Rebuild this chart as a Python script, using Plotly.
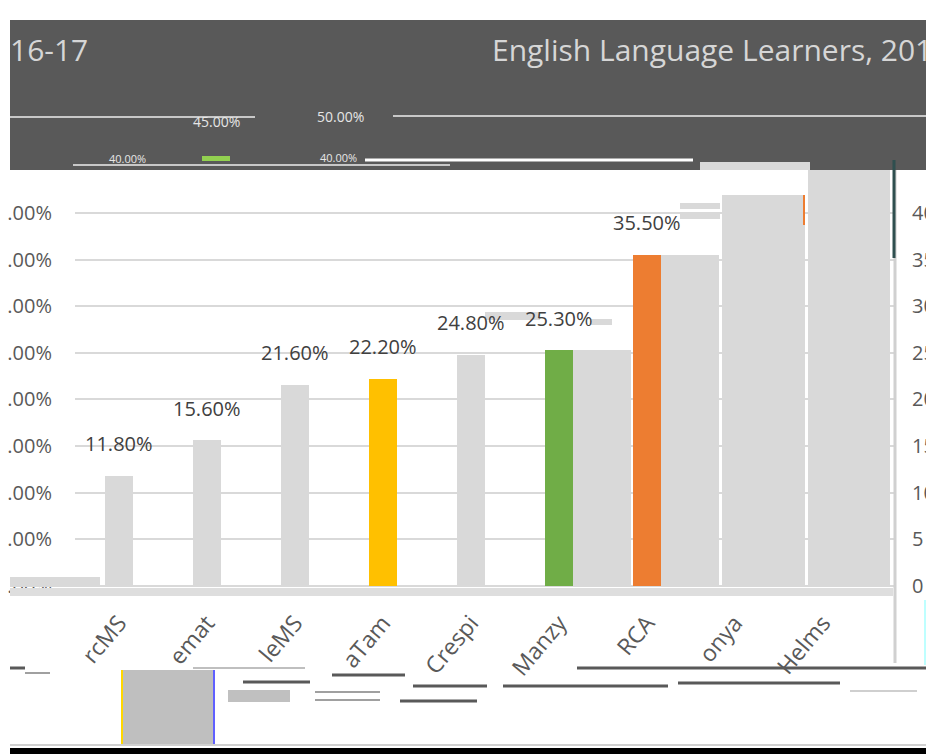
import plotly.graph_objects as go

# ---------------- data ----------------
categories = ["rcMS", "emat", "leMS", "aTam", "Crespi", "Manzy", "RCA", "onya", "Helms"]
ell_pct = [11.8, 15.6, 21.6, 22.2, 24.8, 25.3, 35.5, None, None]
ghost_pct = [None, None, None, None, None, 25.3, 35.5, 41.9, 46.0]
y_ticks = [0, 5, 10, 15, 20, 25, 30, 35, 40]
title_text = "English Language Learners, 2016-17"
title_left_text = "16-17"
header_texts = ["45.00%", "50.00%", "40.00%", "40.00%"]

# ---------------- styles ----------------
GREY = "#d9d9d9"
bar_colors = [GREY, GREY, GREY, "#ffc000", GREY, "#70ad47", "#ed7d31", GREY, GREY]
ghost_width = [0.66, 0.66, 0.66, 0.66, 0.66, 0.66, 0.66, 0.94, 0.93]
ghost_offset = [0.16, 0.16, 0.16, 0.16, 0.16, 0.16, 0.16, -0.15, -0.17]
FONT = "Open Sans, Noto Sans, sans-serif"

# the page body adds an 8px margin: the figure starts at (8, 8) in the window
OFF = 8
WIN_W, WIN_H = 934, 754
W, H = WIN_W - OFF, WIN_H - OFF
# plot area in window pixels
L, R, T, B = 75, 895, 170, 586
YMAX = 44.6


def px(x):
    return (x - L) / (R - L)


def py(y):
    return (B - y) / (B - T)


fig = go.Figure()

fig.add_trace(go.Bar(
    x=categories, y=ghost_pct, width=ghost_width, offset=ghost_offset,
    marker=dict(color=GREY, line=dict(width=0)), hoverinfo="skip", showlegend=False,
))
fig.add_trace(go.Bar(
    x=categories, y=ell_pct, width=0.318,
    marker=dict(color=bar_colors, line=dict(width=0)), showlegend=False,
))
# invisible trace to activate the right axis
fig.add_trace(go.Scatter(
    x=[categories[0]], y=[0], yaxis="y2", mode="markers",
    marker=dict(opacity=0), hoverinfo="skip", showlegend=False,
))

annotations = []
for c, v in zip(categories, ell_pct):
    if v is None:
        continue
    annotations.append(dict(
        x=c, y=v, xref="x", yref="y", text=f"{v:.2f}%", showarrow=False,
        yanchor="middle", yshift=32, font=dict(family=FONT, size=20, color="#404040"),
    ))

# header texts
annotations.append(dict(x=px(490), y=py(50), xref="paper", yref="paper", xanchor="left",
                        yanchor="middle", text=title_text, showarrow=False,
                        font=dict(family=FONT, size=30, color="#d6d6d6")))
annotations.append(dict(x=px(8), y=py(50), xref="paper", yref="paper", xanchor="left",
                        yanchor="middle", text=title_left_text, showarrow=False,
                        font=dict(family=FONT, size=30, color="#d6d6d6")))
for t, (hx, hy, hs) in zip(header_texts, [(216, 121, 14), (340, 117, 14), (127, 158, 11), (338, 157, 11)]):
    annotations.append(dict(x=px(hx), y=py(hy), xref="paper", yref="paper",
                            xanchor="center", yanchor="middle", text=t, showarrow=False,
                            font=dict(family=FONT, size=hs, color="#e6e6e6")))

shapes = []


def rect(x0, y0, x1, y1, color, layer="above"):
    shapes.append(dict(type="rect", xref="paper", yref="paper",
                       x0=px(x0), x1=px(x1), y0=py(y1), y1=py(y0),
                       fillcolor=color, line=dict(width=0), layer=layer))


def hline(y, x0, x1, color, w=2):
    rect(x0, y - w / 2, x1, y + w / 2, color)


def vline(x, y0, y1, color, w=2):
    rect(x - w / 2, y0, x + w / 2, y1, color)


# header
rect(10, 20, 934, 170, "#595959")
hline(117, 10, 255, "#c8c8c8")
hline(116, 393, 934, "#c8c8c8")
hline(165, 73, 450, "#c8c8c8")
hline(160, 365, 693, "#ffffff", 3)
rect(700, 162, 810, 170, "#d9d9d9")
rect(202, 156, 230, 161, "#92d050")

# glitch stripes in plot
rect(485, 312, 540, 320, GREY)
rect(590, 319, 612, 325, GREY)
rect(680, 203, 720, 209, GREY)
rect(680, 213, 720, 219, GREY)
vline(804, 195, 225, "#ed7d31", 2)
rect(10, 577, 100, 587, GREY)
rect(10, 588, 893, 596, "#dedede")
vline(895, 170, 663, "#d0d0d0", 3)
vline(894, 160, 258, "#2f4f4f", 3)
vline(925, 600, 665, "#7fffff", 1)

# bottom glitches
rect(123, 670, 213, 746, "#bfbfbf")
vline(122, 670, 746, "#ffd700", 2)
vline(214, 670, 746, "#6060ff", 2)
hline(668, 193, 305, "#bfbfbf")
hline(682, 243, 310, "#595959", 3)
rect(228, 690, 290, 702, "#c0c0c0")
hline(675, 332, 405, "#595959", 3)
hline(692, 315, 380, "#a0a0a0")
hline(700, 315, 380, "#a0a0a0")
hline(686, 413, 487, "#595959", 3)
hline(686, 503, 668, "#595959", 3)
hline(701, 400, 477, "#595959", 3)
hline(668, 577, 934, "#595959", 3)
hline(683, 678, 840, "#595959", 3)
hline(691, 850, 917, "#bfbfbf", 1.5)
hline(668, 10, 25, "#595959", 3)
hline(673, 25, 50, "#a0a0a0")
hline(745, 10, 934, "#d0d0d0", 2)
rect(10, 748, 934, 754, "#000000")

fig.update_layout(
    width=W, height=H, autosize=False,
    margin=dict(l=L - OFF, r=WIN_W - R, t=T - OFF, b=WIN_H - B, pad=0),
    paper_bgcolor="white", plot_bgcolor="white",
    barmode="overlay", bargap=0,
    xaxis=dict(type="category", range=[-0.5, -0.5 + (R - L) / 88.0],
               tickangle=-50, tickfont=dict(family=FONT, size=23, color="#595959"),
               showgrid=False, showline=False, ticks="", ticklabelstandoff=18,
               automargin=False),
    yaxis=dict(range=[0, YMAX], tickvals=y_ticks, ticktext=[f"{v:.2f}%" for v in y_ticks],
               tickfont=dict(family=FONT, size=20, color="#595959"),
               showgrid=True, gridcolor=GREY, gridwidth=1.5,
               zeroline=True, zerolinecolor=GREY, zerolinewidth=1.5,
               showline=False, ticks="", ticklabelstandoff=22, automargin=False),
    yaxis2=dict(range=[0, YMAX], tickvals=y_ticks, ticktext=[str(v) for v in y_ticks],
                overlaying="y", side="right",
                tickfont=dict(family=FONT, size=20, color="#595959"), showgrid=False,
                zeroline=False, showline=False, ticks="", ticklabelstandoff=16,
                automargin=False),
    annotations=annotations,
    shapes=shapes,
)

fig.write_html("out.html")
